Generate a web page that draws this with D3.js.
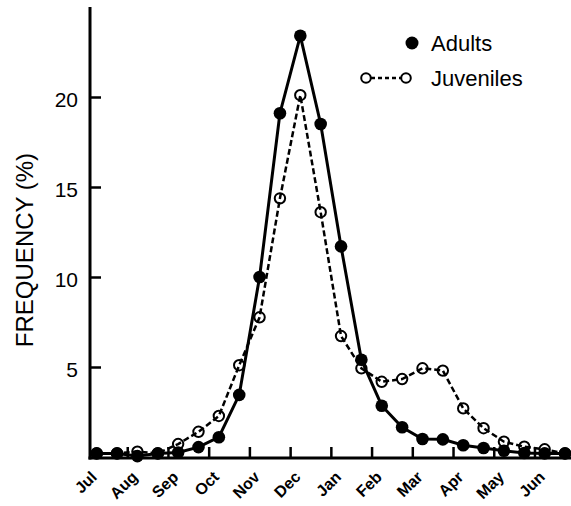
<!DOCTYPE html>
<html>
<head>
<meta charset="utf-8">
<script src="https://cdn.jsdelivr.net/npm/d3@7"></script>
<style>
body { margin: 0; background: #fff; }
text { font-family: "Liberation Sans", Arial, sans-serif; fill: #000; }
</style>
</head>
<body>
<script>
// two samples per month, Jul -> Jun
var months = ['Jul','Aug','Sep','Oct','Nov','Dec','Jan','Feb','Mar','Apr','May','Jun'];
var adults = [0.2,0.2, 0.05,0.2, 0.25,0.55, 1.1,3.45, 10.0,19.1, 23.4,18.5,
              11.7,5.4, 2.85,1.65, 1.0,0.98, 0.65,0.5, 0.35,0.22, 0.2,0.2];
var juveniles = [0.2,0.2, 0.3,0.2, 0.72,1.4, 2.28,5.1, 7.76,14.37, 20.1,13.6,
                 6.72,4.93, 4.18,4.33, 4.93,4.8, 2.7,1.6, 0.85,0.57, 0.43,0.2];
var yTicks = [5,10,15,20];

var width = 571, height = 506;
var left = 90, bottom = 458;

var svg = d3.select('body').append('svg')
    .attr('width', width)
    .attr('height', height);

var x = d3.scaleLinear().domain([0, 12]).range([86.5, 575.2]);
var y = d3.scaleLinear().domain([0, 25]).range([457, 7]);

function px(d, i){ return x(i/2 + 0.25); }
function py(d){ return y(d); }

// y axis, ticks pointing inward
var yAxis = svg.append('g')
    .attr('transform', 'translate(' + left + ',0)')
    .call(d3.axisLeft(y).tickValues(yTicks).tickSize(-11).tickSizeOuter(0).tickPadding(12));
yAxis.select('.domain').remove();
yAxis.selectAll('.tick line').attr('stroke', '#000').attr('stroke-width', 2.5);
yAxis.selectAll('.tick text')
    .style('font-size', '21px')
    .attr('dy', '0.45em');

// x axis: month boundaries
var xAxis = svg.append('g')
    .attr('transform', 'translate(0,' + bottom + ')')
    .call(d3.axisBottom(x).tickValues(d3.range(1, 12)).tickSize(-11).tickFormat(''));
xAxis.select('.domain').remove();
xAxis.selectAll('.tick line').attr('stroke', '#000').attr('stroke-width', 2.5);

svg.append('line')
    .attr('x1', left).attr('x2', left)
    .attr('y1', y(25)).attr('y2', bottom + 1.5)
    .style('stroke', '#000').style('stroke-width', 3);
svg.append('line')
    .attr('x1', left - 1.5).attr('x2', width)
    .attr('y1', bottom).attr('y2', bottom)
    .style('stroke', '#000').style('stroke-width', 3);

svg.selectAll('text.month')
    .data(months)
    .enter().append('text')
    .attr('class', 'month')
    .attr('text-anchor', 'end')
    .attr('transform', function(d, i){
        return 'translate(' + (x(i + 0.5) - 9) + ',478) rotate(-45)';
    })
    .style('font-size', '16px')
    .style('font-weight', 'bold')
    .text(function(d){ return d; });

svg.append('text')
    .attr('text-anchor', 'middle')
    .attr('transform', 'translate(33,250) rotate(-90)')
    .style('font-size', '24px')
    .text('FREQUENCY (%)');

var line = d3.line().x(px).y(py);

// juveniles
svg.append('path')
    .datum(juveniles)
    .attr('d', line)
    .style('fill', 'none')
    .style('stroke', '#000')
    .style('stroke-width', 2.5)
    .style('stroke-dasharray', '6,3');
svg.selectAll('circle.juv')
    .data(juveniles)
    .enter().append('circle')
    .attr('class', 'juv')
    .attr('cx', px).attr('cy', py).attr('r', 5.2)
    .style('fill', 'none')
    .style('stroke', '#000')
    .style('stroke-width', 2);

// adults
svg.append('path')
    .datum(adults)
    .attr('d', line)
    .style('fill', 'none')
    .style('stroke', '#000')
    .style('stroke-width', 3);
svg.selectAll('circle.adult')
    .data(adults)
    .enter().append('circle')
    .attr('class', 'adult')
    .attr('cx', px).attr('cy', py).attr('r', 6.3)
    .style('fill', '#000');

// legend
svg.append('circle').attr('cx', 412).attr('cy', 43).attr('r', 6.5).style('fill', '#000');
svg.append('text').attr('x', 431).attr('y', 51).style('font-size', '22px').text('Adults');

svg.append('line')
    .attr('x1', 371).attr('x2', 401).attr('y1', 78).attr('y2', 78)
    .style('stroke', '#000').style('stroke-width', 2.5).style('stroke-dasharray', '4,3');
svg.selectAll('circle.leg')
    .data([366, 406])
    .enter().append('circle')
    .attr('class', 'leg')
    .attr('cx', function(d){ return d; }).attr('cy', 78).attr('r', 4.8)
    .style('fill', '#fff').style('stroke', '#000').style('stroke-width', 2);
svg.append('text').attr('x', 431).attr('y', 86).style('font-size', '22px').text('Juveniles');
</script>
</body>
</html>
